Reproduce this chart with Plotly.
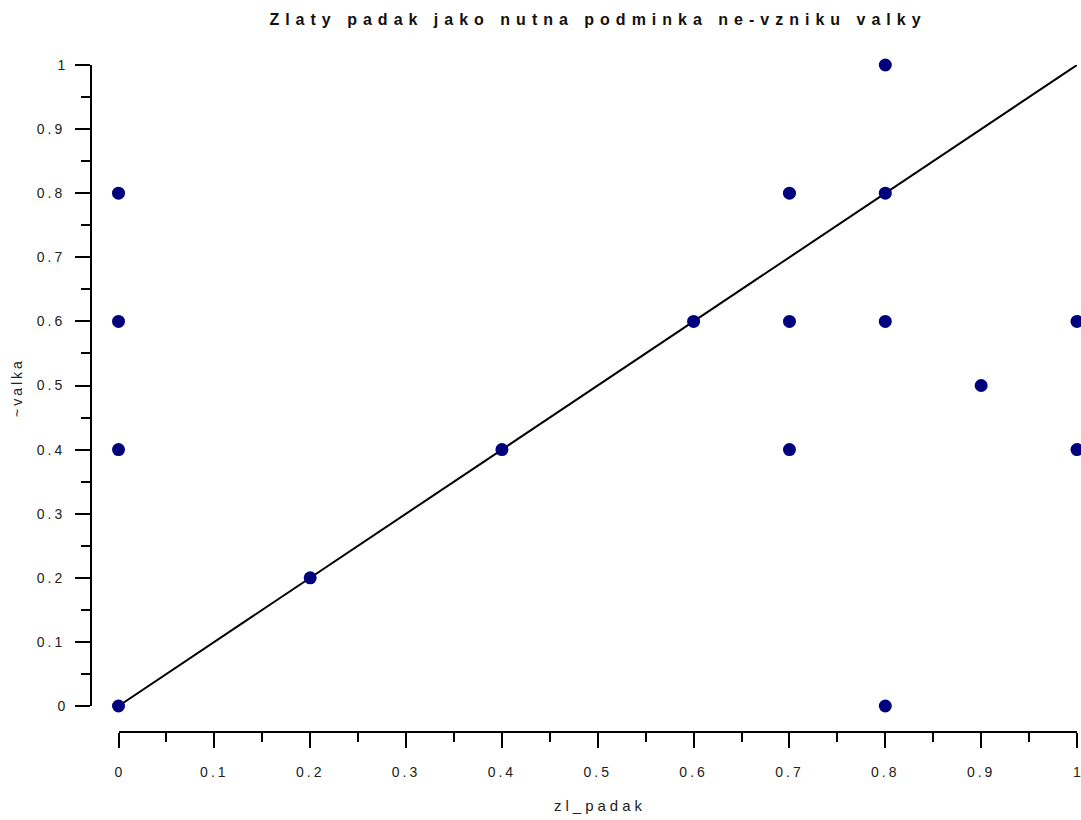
import plotly.graph_objects as go

# Data
zl_padak = [0, 0, 0, 0, 0.2, 0.4, 0.6, 0.7, 0.7, 0.7, 0.8, 0.8, 0.8, 0.8, 0.9, 1, 1]
valka_neg = [0, 0.4, 0.6, 0.8, 0.2, 0.4, 0.6, 0.4, 0.6, 0.8, 0, 0.6, 0.8, 1, 0.5, 0.4, 0.6]
diag_x = [0, 1]
diag_y = [0, 1]
tick_vals = [0, 0.1, 0.2, 0.3, 0.4, 0.5, 0.6, 0.7, 0.8, 0.9, 1]
tick_labels = ["0", "0.1", "0.2", "0.3", "0.4", "0.5", "0.6", "0.7", "0.8", "0.9", "1"]
title_text = "Zlaty padak jako nutna podminka ne-vzniku valky"
x_title = "zl_padak"
y_title = "~valka"

W, H = 1081, 820
ML, MR, MT, MB = 91, 4, 65, 88
PW = W - ML - MR
PH = H - MT - MB

def sp(t, ls):
    if len(t) < 2:
        return t
    return f'<span style="letter-spacing:{ls}px">{t}</span>'

x0_px = 118.5
y0_px = 706
xdom0 = (x0_px - ML) / PW
ydom0 = ((H - MB) - y0_px) / PH

FONT = "Liberation Sans, Arial, sans-serif"

fig = go.Figure()
fig.add_trace(go.Scatter(x=diag_x, y=diag_y, mode="lines",
                         line=dict(color="black", width=2), hoverinfo="skip",
                         cliponaxis=False))
fig.add_trace(go.Scatter(x=zl_padak, y=valka_neg, mode="markers",
                         marker=dict(color="#00007f", size=13, line=dict(width=0)),
                         cliponaxis=False))

axis_common = dict(
    range=[0, 1], showgrid=False, zeroline=False, showline=True,
    linecolor="black", linewidth=2, ticks="outside", ticklen=15, tickwidth=2,
    tickcolor="black", tickvals=tick_vals,
    ticktext=[sp(t, 3) for t in tick_labels],
    tickfont=dict(family=FONT, size=14, color="#222222"),
    minor=dict(dtick=0.05, tick0=0, ticks="outside", ticklen=9, tickwidth=2,
               tickcolor="black", showgrid=False),
    anchor="free", position=0, fixedrange=True,
    ticklabeloverflow="allow",
)

fig.update_layout(
    width=W, height=H,
    margin=dict(l=ML, r=MR, t=MT, b=MB, autoexpand=False),
    paper_bgcolor="white", plot_bgcolor="white",
    showlegend=False,
    xaxis=dict(domain=[xdom0, 1], ticklabelstandoff=12, **axis_common),
    yaxis=dict(domain=[ydom0, 1], ticklabelstandoff=7, **axis_common),
    title=dict(text="<b>" + sp(title_text, 6) + "</b>", x=598 / W, xanchor="center",
               y=1 - 19 / H, yanchor="middle",
               font=dict(family=FONT, size=16, color="#111111")),
    annotations=[
        dict(text=sp(x_title, 4), xref="paper", yref="paper",
             x=(600 - ML) / PW, y=((H - MB) - 805) / PH, xanchor="center", yanchor="middle",
             showarrow=False, font=dict(family=FONT, size=15, color="#222222")),
        dict(text=sp(y_title, 3), xref="paper", yref="paper", textangle=-90,
             x=(17 - ML) / PW, y=((H - MB) - 388) / PH, xanchor="center", yanchor="middle",
             showarrow=False, font=dict(family=FONT, size=14, color="#222222")),
    ],
)

fig.write_html("out.html", config={"displayModeBar": False},
               post_script="document.body.style.margin='0';")
